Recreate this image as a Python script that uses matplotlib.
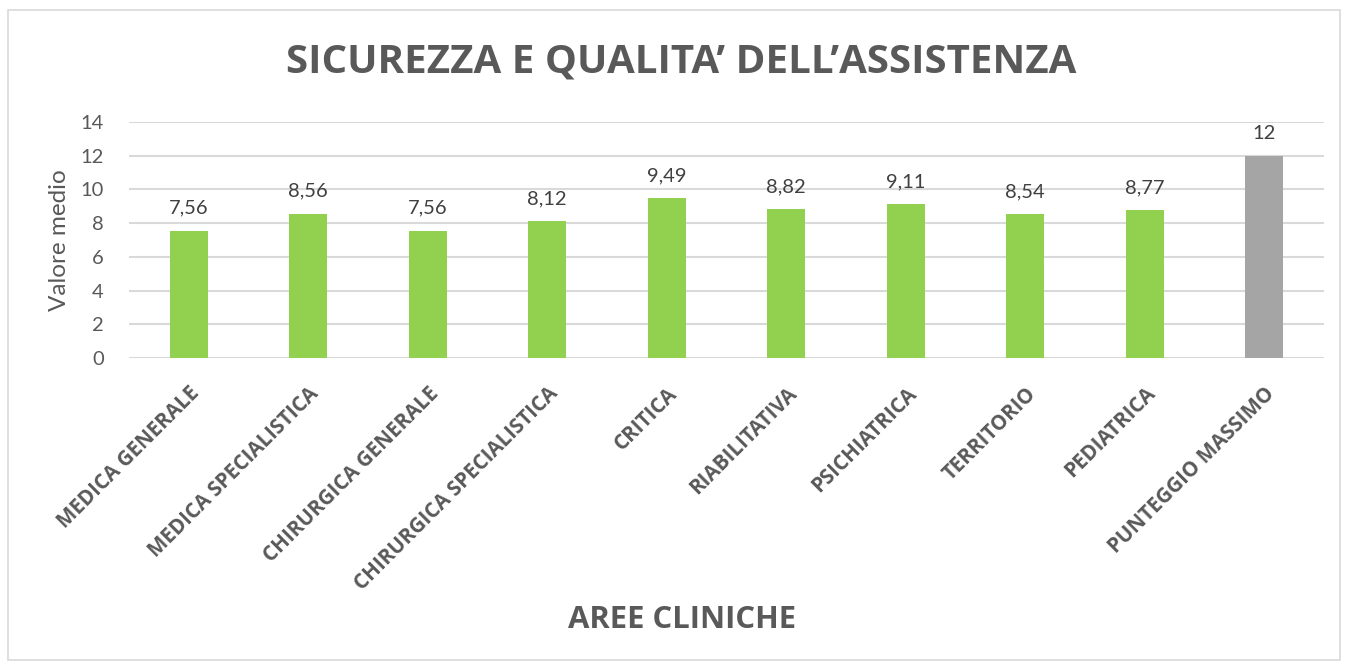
import matplotlib
matplotlib.use("Agg")
import matplotlib.pyplot as plt
from matplotlib.patches import Rectangle

categories = ["MEDICA GENERALE", "MEDICA SPECIALISTICA", "CHIRURGICA GENERALE",
              "CHIRURGICA SPECIALISTICA", "CRITICA", "RIABILITATIVA", "PSICHIATRICA",
              "TERRITORIO", "PEDIATRICA", "PUNTEGGIO MASSIMO"]
values = [7.56, 8.56, 7.56, 8.12, 9.49, 8.82, 9.11, 8.54, 8.77, 12]
yticks = [0, 2, 4, 6, 8, 10, 12, 14]

GREEN = "#92d050"
GRAY_BAR = "#a5a5a5"
TEXT = "#595959"
GRID = "#d9d9d9"

fig = plt.figure(figsize=(13.46, 6.66), dpi=100)
fig.patch.set_facecolor("white")
fig.patches.append(Rectangle((8/1346, 6/666), 1332/1346, 650/666, transform=fig.transFigure,
                             fill=False, edgecolor="#d9d9d9", linewidth=1.2))

ax = fig.add_axes([129/1346, 1 - 358/666, 1195/1346, 236/666])
colors = [GREEN] * (len(values) - 1) + [GRAY_BAR]
x = list(range(len(categories)))
bars = ax.bar(x, values, width=0.32, color=colors, zorder=3)

for xi, v in zip(x, values):
    lab = f"{v:.2f}".replace(".", ",") if v != int(v) else str(int(v))
    ax.annotate(lab, (xi, v), xytext=(0, 10), textcoords="offset points",
                ha="center", va="bottom", fontsize=14.5, color="#404040", family="Lato")

ax.set_xlim(-0.5, len(categories) - 0.5)
ax.set_ylim(0, 14)
ax.set_yticks(yticks)
ax.set_yticklabels([str(t) for t in yticks], fontsize=14.5, color=TEXT, family="Lato")
ax.yaxis.grid(True, color=GRID, linewidth=1.5, zorder=0)
ax.set_axisbelow(True)
for s in ax.spines.values():
    s.set_visible(False)
ax.tick_params(axis="both", length=0)
ax.tick_params(axis="y", pad=18)

ax.set_xticks(x)
ax.set_xticklabels(categories, rotation=45, ha="right", rotation_mode="anchor",
                   fontsize=14.8, fontweight="bold", color=TEXT, family="Open Sans")
ax.tick_params(axis="x", pad=18)

ax.set_ylabel("Valore medio", fontsize=17.5, color=TEXT, family="Lato", labelpad=8)

fig.text(681/1346, 1 - 62/666, "SICUREZZA E QUALITA\u2019 DELL\u2019ASSISTENZA", ha="center", va="center",
         fontsize=29, fontweight="bold", color=TEXT, family="Open Sans")
fig.text(682/1346, 1 - 620/666, "AREE CLINICHE", ha="center", va="center",
         fontsize=22.3, fontweight="bold", color=TEXT, family="Open Sans")

fig.savefig("out.png", dpi=100)
